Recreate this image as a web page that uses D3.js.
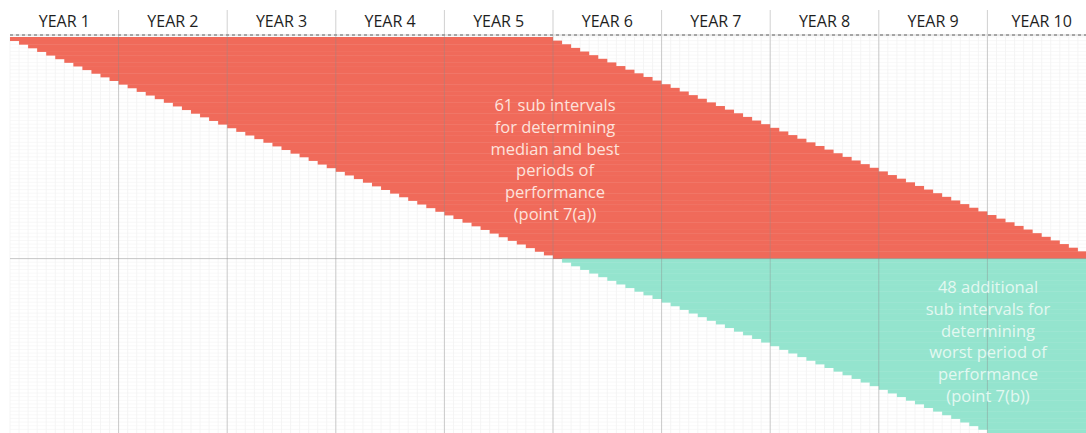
<!DOCTYPE html>
<html>
<head>
<meta charset="utf-8">
<script src="https://cdn.jsdelivr.net/npm/d3@7"></script>
<style>
  body { margin: 0; background: #fff; }
  svg { display: block; font-family: "Open Sans", Lato, sans-serif; }
</style>
</head>
<body>
<svg width="1086" height="433"></svg>
<script>
// year headers
var years = ["YEAR 1", "YEAR 2", "YEAR 3", "YEAR 4", "YEAR 5",
             "YEAR 6", "YEAR 7", "YEAR 8", "YEAR 9", "YEAR 10"];

// start month of each sub interval
var medianStarts = [0, 1, 2, 3, 4, 5, 6, 7, 8, 9, 10, 11, 12, 13, 14, 15, 16, 17, 18, 19,
  20, 21, 22, 23, 24, 25, 26, 27, 28, 29, 30, 31, 32, 33, 34, 35, 36, 37, 38, 39,
  40, 41, 42, 43, 44, 45, 46, 47, 48, 49, 50, 51, 52, 53, 54, 55, 56, 57, 58, 59, 60];
var worstStarts = [61, 62, 63, 64, 65, 66, 67, 68, 69, 70, 71, 72, 73, 74, 75, 76,
  77, 78, 79, 80, 81, 82, 83, 84, 85, 86, 87, 88, 89, 90, 91, 92, 93, 94, 95, 96,
  97, 98, 99, 100, 101, 102, 103, 104, 105, 106, 107, 108];

var holdingMonths = 60;
var totalMonths = 120;

var medianLabel = ["61 sub intervals", "for determining", "median and best",
                   "periods of", "performance", "(point 7(a))"];
var worstLabel = ["48 additional", "sub intervals for", "determining",
                  "worst period of", "performance", "(point 7(b))"];

var W = 1086, H = 433;
var topY = 37, headerLine = 35;

var svg = d3.select("svg");

var x = d3.scaleLinear().domain([0, totalMonths]).range([10, 1096]);

var rows = medianStarts.map(function(s){ return {start: s, end: s + holdingMonths, kind: "median"}; })
  .concat(worstStarts.map(function(s){ return {start: s, end: totalMonths, kind: "worst"}; }));

var y = d3.scaleBand().domain(d3.range(rows.length)).range([topY, H]).padding(0);

svg.append("defs").append("clipPath").attr("id", "c")
  .append("rect").attr("width", W).attr("height", H);

var g = svg.append("g").attr("clip-path", "url(#c)");

// fine grid
g.append("g").selectAll("line").data(d3.range(0, totalMonths + 1))
  .enter().append("line")
  .attr("x1", function(d){ return x(d); }).attr("x2", function(d){ return x(d); })
  .attr("y1", topY).attr("y2", H)
  .attr("stroke", "#f3f3f3").attr("stroke-width", 0.8);
g.append("g").selectAll("line").data(d3.range(rows.length))
  .enter().append("line")
  .attr("y1", function(d){ return y(d); }).attr("y2", function(d){ return y(d); })
  .attr("x1", 10).attr("x2", W)
  .attr("stroke", "#f3f3f3").attr("stroke-width", 0.6);

// sub interval bars
g.append("g").selectAll("rect").data(rows)
  .enter().append("rect")
  .attr("x", function(d){ return x(d.start); })
  .attr("y", function(d, i){ return y(i); })
  .attr("width", function(d){ return x(d.end) - x(d.start); })
  .attr("height", y.bandwidth() + 0.4)
  .attr("fill", function(d){ return d.kind == "median" ? "#f06a5a" : "#94e4ce"; });

// year lines
var yearScale = d3.scaleBand().domain(years).range([x(0), x(totalMonths)]);
g.append("g").selectAll("line").data(years.slice(1))
  .enter().append("line")
  .attr("x1", function(d){ return yearScale(d); }).attr("x2", function(d){ return yearScale(d); })
  .attr("y1", 10).attr("y2", H)
  .attr("stroke", "#8a8a8a").attr("stroke-opacity", 0.4).attr("stroke-width", 1);

// split line between the two groups
g.append("line")
  .attr("x1", 10).attr("x2", W)
  .attr("y1", y(medianStarts.length)).attr("y2", y(medianStarts.length))
  .attr("stroke", "#8a8a8a").attr("stroke-opacity", 0.45);

// header dashed line
g.append("line").attr("x1", 10).attr("x2", W).attr("y1", headerLine).attr("y2", headerLine)
  .attr("stroke", "#d0d0d0").attr("stroke-width", 1);
g.append("line").attr("x1", 10).attr("x2", W).attr("y1", headerLine).attr("y2", headerLine)
  .attr("stroke", "#909090").attr("stroke-width", 1.5).attr("stroke-dasharray", "3,3");

// header labels
svg.append("g").selectAll("text").data(years)
  .enter().append("text")
  .attr("x", function(d){ return yearScale(d) + yearScale.bandwidth() / 2; })
  .attr("y", 27)
  .attr("text-anchor", "middle")
  .attr("font-size", 16)
  .attr("fill", "#1e1e1e")
  .text(function(d){ return d; });

function block(lines, cx, y0, color){
  var t = svg.append("text").attr("text-anchor", "middle")
    .attr("font-size", 16.5).attr("fill", color);
  t.selectAll("tspan").data(lines).enter().append("tspan")
    .attr("x", cx)
    .attr("y", function(d, i){ return y0 + i * 21.8; })
    .text(function(d){ return d; });
}
block(medianLabel, 555, 111, "#fde2dc");
block(worstLabel, 988, 293, "#e3f8f1");
</script>
</body>
</html>
